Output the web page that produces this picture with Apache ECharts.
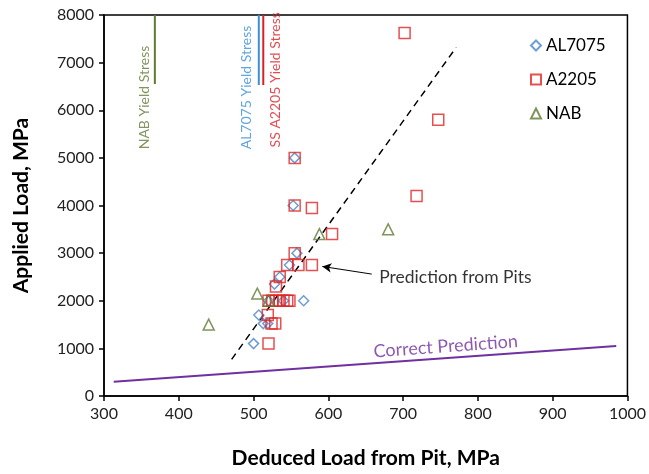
<!DOCTYPE html>
<html><head><meta charset="utf-8">
<script src="https://cdn.jsdelivr.net/npm/echarts@6/dist/echarts.min.js"></script>
<style>html,body{margin:0;padding:0;background:#fff}#c{width:649px;height:474px}</style>
</head><body><div id="c"></div>
<script>
// ---- data ----
var xTicks = [300, 400, 500, 600, 700, 800, 900, 1000];
var yTicks = [0, 1000, 2000, 3000, 4000, 5000, 6000, 7000, 8000];
var seriesNames = ['AL7075', 'A2205', 'NAB'];
var al7075 = [[555,5000],[553,4000],[558,3000],[548,2750],[535,2500],[528,2350],[520,2000],[540,2000],[567,2000],[507,1700],[513,1520],[519,1520],[500,1100]];
var a2205 = [[702,7620],[747,5800],[555,5000],[555,4000],[578,3950],[718,4200],[605,3400],[555,3000],[560,2750],[578,2750],[545,2750],[535,2500],[530,2300],[520,2000],[525,2000],[530,2000],[535,2000],[540,2000],[545,2000],[548,2000],[519,1700],[524,1520],[529,1520],[520,1100]];
var nab = [[588,3400],[680,3500],[505,2150],[520,2000],[440,1500]];
var pitTrend = [[470.7,770],[771,7320]];
var correctLine = [[313,300],[985,1050]];
var nabYield = [[368,6550],[368,8000]];
var alYield = [[507,6530],[507,8000]];
var ssYield = [[513,6530],[513,8000]];
var arrowLine = [[658,2560],[592,2720]];
var texts = {
  nab: 'NAB Yield Stress', al: 'AL7075 Yield Stress', ss: 'SS A2205 Yield Stress',
  pits: 'Prediction from Pits', correct: 'Correct Prediction',
  xName: 'Deduced Load from Pit, MPa', yName: 'Applied Load, MPa'
};
var textAnchors = { nab:[354.7,5180], al:[490.7,5180], ss:[529,5220], pits:[668,2495], correct:[757,1040] };

var FONT = 'Lato, "Open Sans", sans-serif';
var cBlue = '#4a86c8', cRed = '#e02424', cGreen = '#5f7a34', cPurple = '#7030a0';
var NOFILL = 'rgba(255,255,255,0)';

function lineSeries(data, color, width, type) {
  return { type:'line', data:data, symbol:'none', silent:true, z:2,
    lineStyle:{color:color, width:width, type:type||'solid'} };
}
function textSeries(pt, text, color, size, rot, align) {
  return { type:'scatter', data:[pt], symbolSize:0, silent:true, z:5,
    label:{ show:true, position:'inside', formatter:text, rotate:rot, align:align,
      verticalAlign:'middle', color:color, fontSize:size, fontFamily:FONT } };
}
function plain(v) { return String(v); }

var chart = echarts.init(document.getElementById('c'));
chart.setOption({
  animation:false,
  grid:{ left:104, right:20, top:15, bottom:74, show:true, borderColor:'#000', borderWidth:1.5 },
  legend:{ orient:'vertical', left:525, top:32, itemWidth:10, itemHeight:10, itemGap:17,
    data:seriesNames, textStyle:{fontSize:17, fontFamily:FONT, color:'#000', padding:[0,0,0,0]} },
  xAxis:{ type:'value', min:300, max:1000, interval:100,
    name:texts.xName, nameLocation:'middle', nameGap:52,
    nameTextStyle:{fontSize:21, fontWeight:'bold', fontFamily:FONT, color:'#000'},
    axisLine:{lineStyle:{color:'#000', width:1.5}},
    axisTick:{show:true, length:5, lineStyle:{color:'#000', width:1.5}},
    axisLabel:{fontSize:16, fontFamily:FONT, color:'#222', margin:10, formatter:plain},
    splitLine:{show:false} },
  yAxis:{ type:'value', min:0, max:8000, interval:1000,
    name:texts.yName, nameLocation:'middle', nameGap:72,
    nameTextStyle:{fontSize:21, fontWeight:'bold', fontFamily:FONT, color:'#000'},
    axisLine:{lineStyle:{color:'#000', width:1.5}},
    axisTick:{show:true, length:5, lineStyle:{color:'#000', width:1.5}},
    axisLabel:{fontSize:16, fontFamily:FONT, color:'#222', margin:10, formatter:plain},
    splitLine:{show:false} },
  series:[
    lineSeries(nabYield, cGreen, 2),
    lineSeries(alYield, '#3a8fd8', 2),
    lineSeries(ssYield, '#d81f26', 2),
    lineSeries(pitTrend, '#000', 1.5, [7,5]),
    lineSeries(correctLine, cPurple, 2),
    { type:'line', data:[], silent:true, z:3,
      markLine:{ silent:true, symbol:['none','arrow'], symbolSize:[7,9], label:{show:false},
        lineStyle:{color:'#000', width:1, type:'solid'},
        data:[[{coord:arrowLine[0]},{coord:arrowLine[1]}]] } },
    { name:'AL7075', type:'scatter', data:al7075, symbol:'diamond', symbolSize:10, z:4,
      itemStyle:{color:NOFILL, borderColor:cBlue, borderWidth:1.5} },
    { name:'A2205', type:'scatter', data:a2205, symbol:'rect', symbolSize:11, z:4,
      itemStyle:{color:NOFILL, borderColor:cRed, borderWidth:1.5} },
    { name:'NAB', type:'scatter', data:nab, symbol:'triangle', symbolSize:11, z:4,
      itemStyle:{color:NOFILL, borderColor:cGreen, borderWidth:1.5} },
    textSeries(textAnchors.nab, texts.nab, cGreen, 14, 90, 'left'),
    textSeries(textAnchors.al, texts.al, '#3a8fd8', 14, 90, 'left'),
    textSeries(textAnchors.ss, texts.ss, '#d81f26', 14, 90, 'left'),
    textSeries(textAnchors.pits, texts.pits, '#000', 17.5, 0, 'left'),
    textSeries(textAnchors.correct, texts.correct, cPurple, 18, 4.1, 'center')
  ]
});
</script></body></html>
